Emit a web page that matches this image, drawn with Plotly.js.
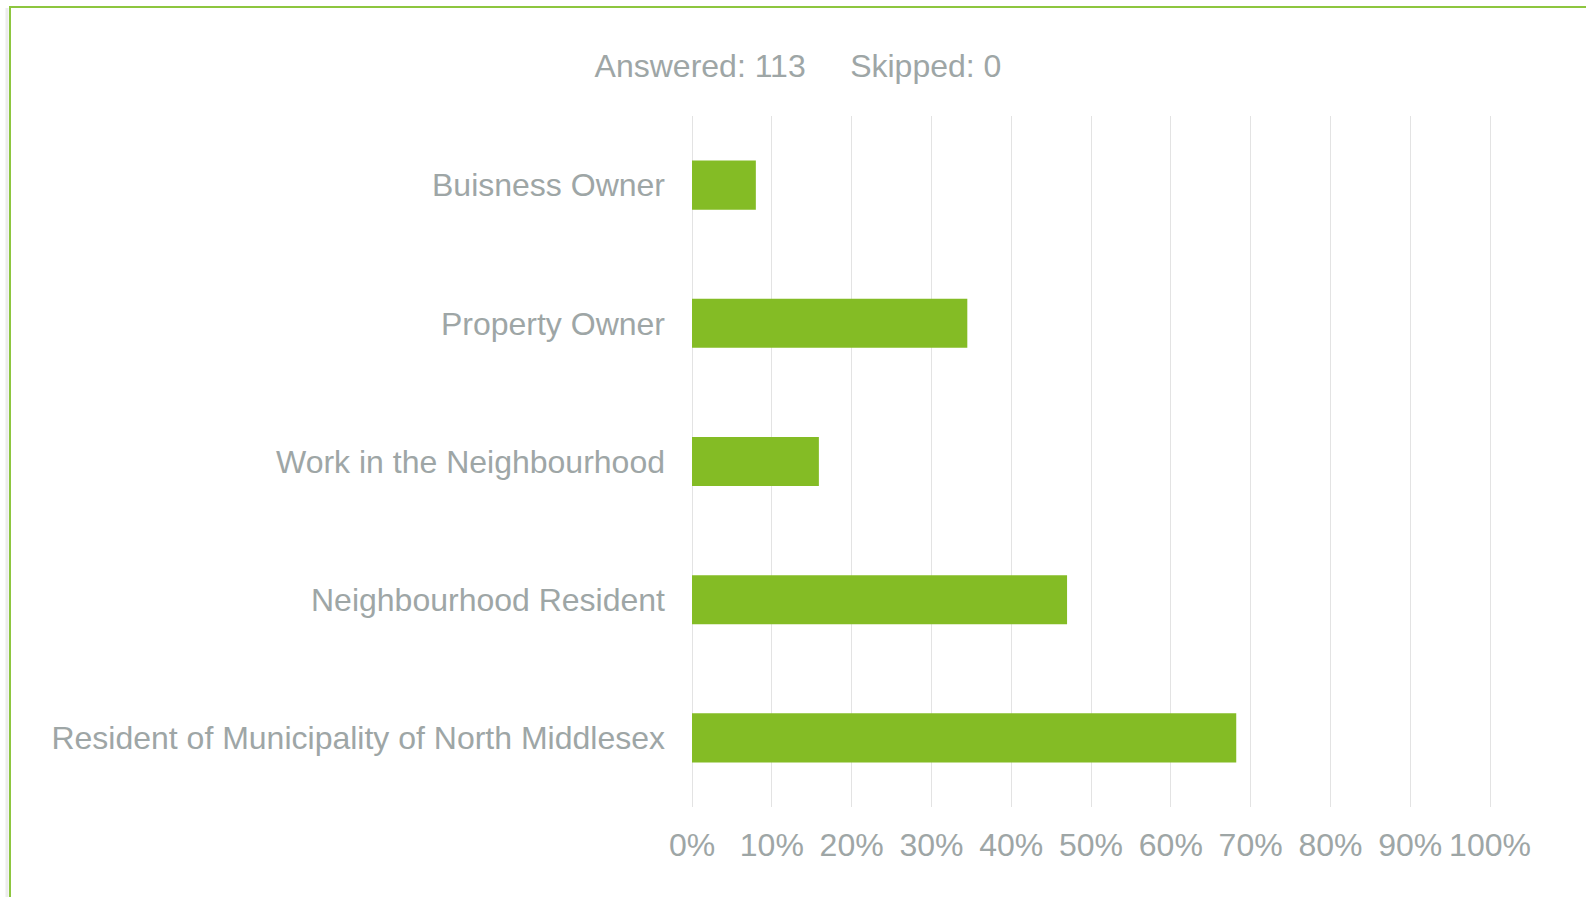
<!DOCTYPE html>
<html>
<head>
<meta charset="utf-8">
<script src="https://cdn.plot.ly/plotly-3.0.1.min.js"></script>
<style>
  html, body { margin: 0; padding: 0; background: #ffffff; }
  #chart { width: 1586px; height: 897px; }
</style>
</head>
<body>
<div id="chart"></div>
<script>
const categories = [
  "Buisness Owner",
  "Property Owner",
  "Work in the Neighbourhood",
  "Neighbourhood Resident",
  "Resident of Municipality of North Middlesex"
];
const shares = [0.080, 0.345, 0.159, 0.470, 0.682];
const tickValues = [0, 0.1, 0.2, 0.3, 0.4, 0.5, 0.6, 0.7, 0.8, 0.9, 1.0];
const tickLabels = ["0%", "10%", "20%", "30%", "40%", "50%", "60%", "70%", "80%", "90%", "100%"];
const titleText = "Answered: 113\u00A0\u00A0\u00A0\u00A0\u00A0Skipped: 0";

const textColor = "#9ea6a6";
const barColor = "#84bc25";
const fontFamily = "Liberation Sans, Arial, sans-serif";

const trace = {
  type: "bar",
  orientation: "h",
  x: shares,
  y: categories,
  marker: { color: barColor, line: { width: 0 } },
  hoverinfo: "x+y"
};

const W = 1586, H = 897;
const L = 690, R = 1492, T = 116, B = 807;
const px = v => (v - L) / (R - L);
const py = v => (B - v) / (B - T);

const layout = {
  width: W,
  height: H,
  margin: { l: L, r: W - R, t: T, b: H - B, pad: 0 },
  paper_bgcolor: "#ffffff",
  plot_bgcolor: "#ffffff",
  font: { family: fontFamily, size: 32, color: textColor },
  showlegend: false,
  bargap: 0.645,
  title: {
    text: titleText,
    font: { family: fontFamily, size: 32, color: textColor },
    xref: "container",
    yref: "container",
    x: 798 / W,
    xanchor: "center",
    y: 1 - 66 / H,
    yanchor: "middle"
  },
  xaxis: {
    range: [-0.0025, 1.0025],
    tickvals: tickValues,
    ticktext: tickLabels,
    showgrid: true,
    gridcolor: "#e3e3e3",
    gridwidth: 1,
    zeroline: false,
    showline: false,
    ticks: "",
    ticklabelstandoff: 16,
    tickfont: { family: fontFamily, size: 32, color: textColor },
    fixedrange: true
  },
  yaxis: {
    autorange: "reversed",
    showgrid: false,
    zeroline: false,
    showline: false,
    ticks: "",
    ticklabelstandoff: 24,
    tickfont: { family: fontFamily, size: 32, color: textColor },
    fixedrange: true
  },
  shapes: [
    {
      type: "line", xref: "paper", yref: "paper",
      x0: px(7), x1: px(7), y0: py(8), y1: py(905),
      line: { color: "#ececec", width: 3 }
    },
    {
      type: "line", xref: "paper", yref: "paper",
      x0: px(10), x1: px(1600), y0: py(7), y1: py(7),
      line: { color: "#8dc63f", width: 2 }
    },
    {
      type: "line", xref: "paper", yref: "paper",
      x0: px(10), x1: px(10), y0: py(6), y1: py(905),
      line: { color: "#8dc63f", width: 2 }
    }
  ]
};

Plotly.newPlot("chart", [trace], layout, { displayModeBar: false, responsive: false });
</script>
</body>
</html>
